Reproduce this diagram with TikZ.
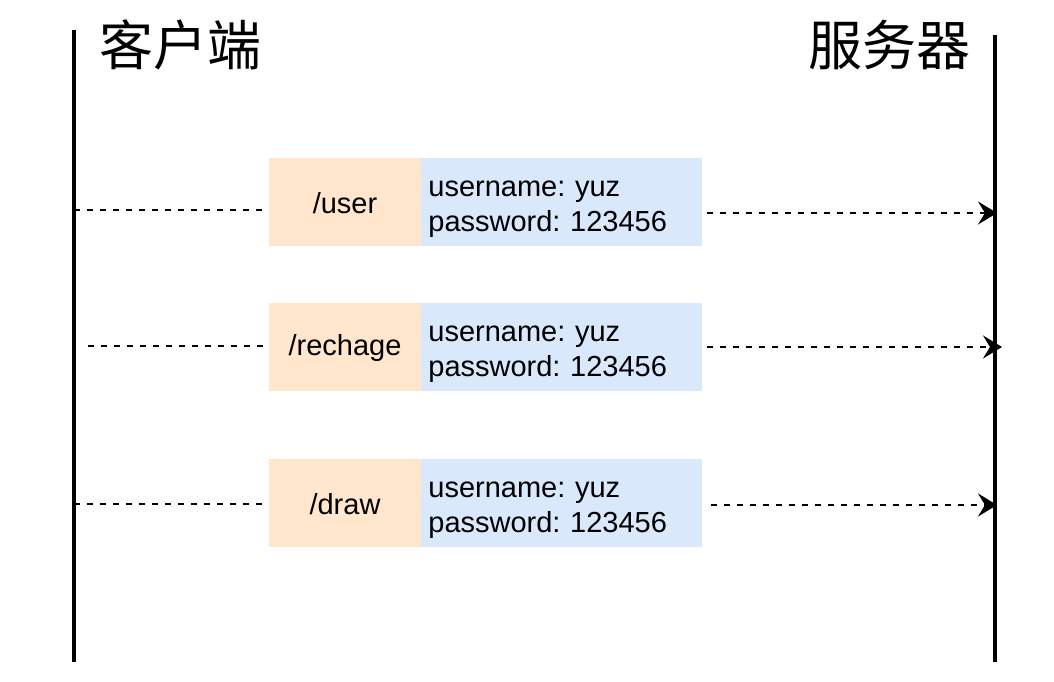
\documentclass[tikz,border=0pt]{standalone}
\usepackage{fontspec}
\setmainfont{Liberation Sans}
\newfontfamily\cjk{Noto Sans CJK SC}
\usetikzlibrary{arrows.meta, positioning}
\definecolor{apibg}{HTML}{FFE6CC}
\definecolor{databg}{HTML}{DAE8FC}
\frenchspacing

\begin{document}
\begin{tikzpicture}[
		x=1pt, y=-1pt,
		every node/.style={font=\fontsize{29}{35}\selectfont},
		life/.style={line width=4.5pt},
		title/.style={font=\cjk\fontsize{54}{60}\selectfont, inner sep=0pt},
		api/.style={fill=apibg, minimum width=152pt, minimum height=88pt, inner sep=0pt, execute at begin node={\rule{0pt}{24pt}}},
		data/.style={fill=databg, minimum width=281pt, minimum height=88pt, text width=267pt, inner xsep=7pt, inner ysep=0pt, align=left, execute at begin node={\rule{0pt}{31pt}}},
		msg/.style={line width=2.4pt, dash pattern=on 6pt off 7pt},
		call/.style={msg, -{Stealth[length=19pt 0, width=23pt 0, inset=7pt 0]}}
		]
		\useasboundingbox (0,0) rectangle (1054,682);
		
		% --- Lifelines ---
		\coordinate (clientTop) at (74,30);
		\coordinate (clientBot) at (74,662);
		\coordinate (serverTop) at (995,35);
		\coordinate (serverBot) at (995,662);
		\draw[life] (clientTop) -- (clientBot);
		\draw[life] (serverTop) -- (serverBot);
		\node[title, anchor=west] (client) at (99,45) {客户端};
		\node[title, anchor=east] (server) at (971,45) {服务器};
		
		% --- Requests ---
		\node[api] (user) at (345,202) {/user};
		\node[data, right=0pt of user] (userData) {username: yuz\\password: 123456};
		\node[api] (rechage) at (345,347) {/rechage};
		\node[data, right=0pt of rechage] (rechageData) {username: yuz\\password: 123456};
		\node[api] (draw) at (345,503) {/draw};
		\node[data, right=0pt of draw] (drawData) {username: yuz\\password: 123456};
		
		% --- Dashed messages ---
		\coordinate (c1) at (74,210);
		\coordinate (s1) at (997,213);
		\coordinate (c2) at (88,346);
		\coordinate (s2) at (1002,347);
		\coordinate (c3) at (74,504);
		\coordinate (s3) at (997,505);
		\draw[msg] (c1) -- (c1 -| user.west);
		\draw[call, shorten <=4pt] (userData.east |- s1) -- (s1);
		\draw[msg] (c2) -- (c2 -| rechage.west);
		\draw[call, shorten <=4pt] (rechageData.east |- s2) -- (s2);
		\draw[msg] (c3) -- (c3 -| draw.west);
		\draw[call, shorten <=8pt] (drawData.east |- s3) -- (s3);
	\end{tikzpicture}
\end{document}
